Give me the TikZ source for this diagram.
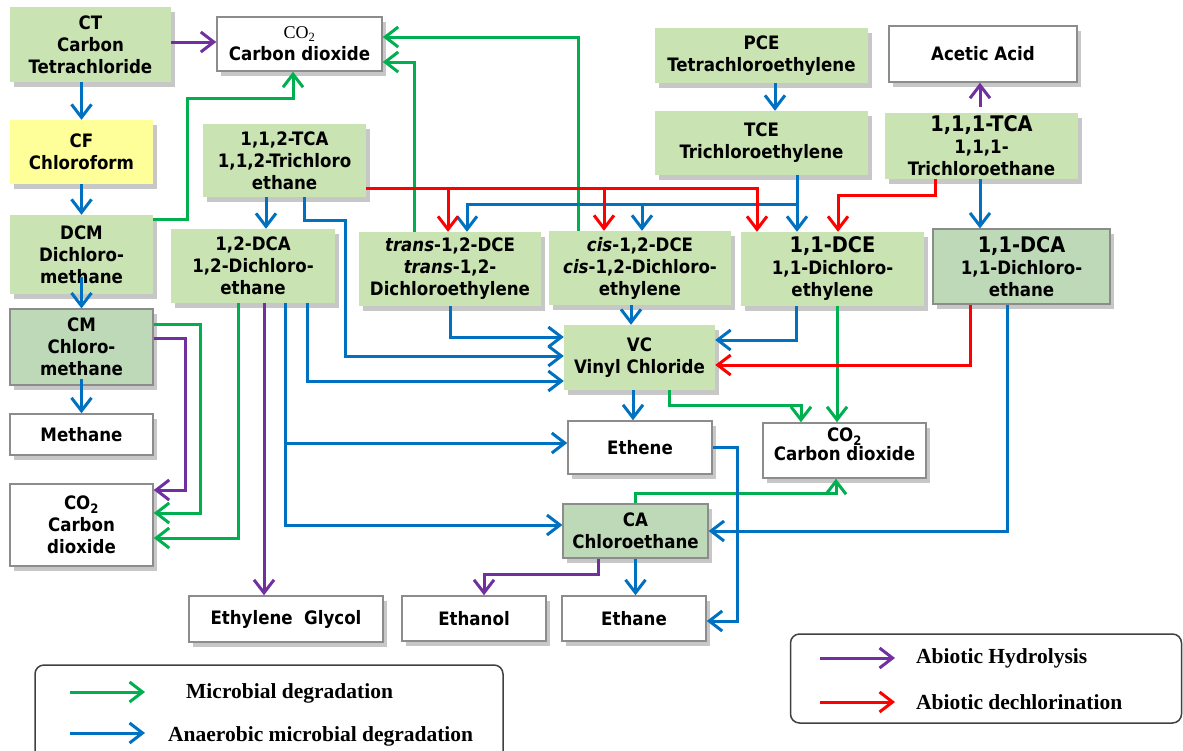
\documentclass[tikz,border=0pt]{standalone}
\usepackage{fontspec}
\usepackage{tikz}
\usetikzlibrary{arrows.meta,shadows}

\newfontfamily\boxfont{DejaVu Sans Condensed}
\newfontfamily\legfont{Liberation Serif}

\definecolor{boxgreen}{RGB}{201,227,178}
\definecolor{boxdark}{RGB}{190,217,184}
\definecolor{boxyellow}{RGB}{255,255,153}
\definecolor{edgegray}{RGB}{140,140,140}
\definecolor{lgreen}{RGB}{0,176,80}
\definecolor{lblue}{RGB}{0,112,192}
\definecolor{lred}{RGB}{255,0,0}
\definecolor{lpurple}{RGB}{112,48,160}

\begin{document}
\begin{tikzpicture}[x=1pt, y=-1pt,
			basebox/.style={rectangle, align=center, inner sep=0pt, font=\boxfont\bfseries\fontsize{18.5pt}{22pt}\selectfont, drop shadow={shadow xshift=4pt, shadow yshift=-5pt, opacity=0.22, fill=black}},
			greenbox/.style={basebox, fill=boxgreen},
			darkbox/.style={basebox, fill=boxdark, draw=edgegray, line width=1.2pt},
			yellowbox/.style={basebox, fill=boxyellow},
			whitebox/.style={basebox, fill=white, draw=edgegray, line width=1.5pt},
			legendbox/.style={rectangle, rounded corners=9pt, draw=black!75, line width=1.5pt},
			legendtext/.style={anchor=west, inner sep=0pt, font=\legfont\bfseries\fontsize{21.5pt}{24pt}\selectfont},
			flow/.style={line width=3pt, -{Straight Barb[length=13pt,width=20pt]}},
			microbial/.style={flow, color=lgreen},
			anaerobic/.style={flow, color=lblue},
			dechlor/.style={flow, color=lred},
			hydrolysis/.style={flow, color=lpurple},
			]
			\useasboundingbox (0,0) rectangle (1183,750);
			%Nodes
				% methanes
				\node[greenbox, minimum width=161pt, minimum height=75pt]	(ct)		at (90.5,44.5)		{CT\\Carbon\\Tetrachloride};
				\node[whitebox, minimum width=165pt, minimum height=54pt]	(co2a)		at (299.5,44)		{{\legfont\mdseries\fontsize{18pt}{20pt}\selectfont CO\textsubscript{2}}\\Carbon dioxide};
				\node[yellowbox, minimum width=143pt, minimum height=64pt]	(cf)		at (81.5,152)		{CF\\Chloroform};
				\node[greenbox, minimum width=143pt, minimum height=79pt]	(dcm)		at (81.5,254.5)		{DCM\\Dichloro-\\methane};
				\node[darkbox, minimum width=143pt, minimum height=76pt]	(cm)		at (81.5,347)		{CM\\Chloro-\\methane};
				\node[whitebox, minimum width=143pt, minimum height=41pt]	(methane)	at (81.5,434.5)		{Methane};
				\node[whitebox, minimum width=143pt, minimum height=82pt]	(co2b)		at (81.5,525)		{CO\textsubscript{2}\\Carbon\\dioxide};
				% ethanes and ethenes
				\node[greenbox, minimum width=163pt, minimum height=73pt]	(tca112)	at (284.5,160.5)	{1,1,2-TCA\\1,1,2-Trichloro\\ethane};
				\node[greenbox, minimum width=164pt, minimum height=74pt]	(dca12)		at (253,266)		{1,2-DCA\\1,2-Dichloro-\\ethane};
				\node[greenbox, minimum width=182pt, minimum height=74pt]	(tdce)		at (450,269)		{\textit{trans}-1,2-DCE\\\textit{trans}-1,2-\\Dichloroethylene};
				\node[greenbox, minimum width=182pt, minimum height=74pt]	(cdce)		at (640,268)		{\textit{cis}-1,2-DCE\\\textit{cis}-1,2-Dichloro-\\ethylene};
				\node[greenbox, minimum width=183pt, minimum height=74pt]	(dce11)		at (832.5,269)		{{\fontsize{21.5pt}{22pt}\selectfont 1,1-DCE}\\1,1-Dichloro-\\ethylene};
				\node[darkbox, minimum width=177pt, minimum height=75pt]	(dca11)		at (1021.5,266.5)	{{\fontsize{21.5pt}{22pt}\selectfont 1,1-DCA}\\1,1-Dichloro-\\ethane};
				\node[greenbox, minimum width=213pt, minimum height=55pt]	(pce)		at (761.5,55.5)		{PCE\\Tetrachloroethylene};
				\node[greenbox, minimum width=213pt, minimum height=64pt]	(tce)		at (761.5,143)		{TCE\\Trichloroethylene};
				\node[whitebox, minimum width=188pt, minimum height=56pt]	(acetic)	at (983,54)			{Acetic Acid};
				\node[greenbox, minimum width=193pt, minimum height=66pt]	(tca111)	at (981.5,146)		{{\fontsize{21.5pt}{22pt}\selectfont 1,1,1-TCA}\\1,1,1-\\Trichloroethane};
				\node[greenbox, minimum width=151pt, minimum height=65pt]	(vc)		at (639.5,357.5)	{VC\\Vinyl Chloride};
				% end products
				\node[whitebox, minimum width=144pt, minimum height=53pt]	(ethene)	at (640,447.5)		{Ethene};
				\node[whitebox, minimum width=163pt, minimum height=55pt]	(co2c)		at (844.5,450.5)	{CO\textsubscript{2}\\[-3pt]Carbon dioxide\\[-9pt]};
				\node[darkbox, minimum width=145pt, minimum height=54pt]	(ca)		at (635.5,531)		{CA\\Chloroethane};
				\node[whitebox, minimum width=144pt, minimum height=45pt]	(ethane)	at (634,618.5)		{Ethane};
				\node[whitebox, minimum width=144pt, minimum height=45pt]	(ethanol)	at (474,618.5)		{Ethanol};
				\node[whitebox, minimum width=194pt, minimum height=46pt]	(eglycol)	at (286,619)		{Ethylene\ \ Glycol};
				% legend
				\node[legendbox, minimum width=468pt, minimum height=110pt]	(legleft)	at (269,720)		{};
				\node[legendbox, minimum width=391pt, minimum height=89pt]	(legright)	at (986,678.5)		{};
				\node[legendtext]	(txmicro)	at (186,693)	{Microbial degradation};
				\node[legendtext]	(txanaer)	at (168,736)	{Anaerobic microbial degradation};
				\node[legendtext]	(txhydro)	at (916,658)	{Abiotic Hydrolysis};
				\node[legendtext]	(txdechl)	at (916,702)	{Abiotic dechlorination};
				%ghost nodes for branching lines
				\coordinate	(tcesplit)	at (797,204);
				\coordinate	(redline)	at ([yshift=-27.5pt]tca112.east);
				\coordinate	(lgmicroa)	at (70,692);
				\coordinate	(lgmicrob)	at (145,692);
				\coordinate	(lganaera)	at (70,733);
				\coordinate	(lganaerb)	at (145,733);
				\coordinate	(lghydroa)	at (820,658);
				\coordinate	(lghydrob)	at (895,658);
				\coordinate	(lgdechla)	at (820,702);
				\coordinate	(lgdechlb)	at (895,702);

			%Lines
				% microbial degradation
				\draw[microbial] ([yshift=-5pt]dcm.north east) -| (187,98) -| ([xshift=-6.5pt]co2a.south);
				\draw[microbial] (414,0 |- tdce.north) |- ([yshift=-18pt]co2a.east);
				\draw[microbial] (578,0 |- cdce.north) |- ([yshift=7pt]co2a.east);
				\draw[microbial] ([yshift=-16pt]cm.north east) -| (200,513) -- ([yshift=12pt]co2b.east);
				\draw[microbial] (238,0 |- dca12.south) |- ([yshift=-13pt]co2b.east);
				\draw[microbial] (669,0 |- vc.south) |- (801,405) -- (801,0 |- co2c.north);
				\draw[microbial] (837,0 |- dce11.south) -- (837,0 |- co2c.north);
				\draw[microbial] (ca.north) |- (836,493) -- (836,0 |- co2c.south);
				% anaerobic microbial degradation
				\draw[anaerobic] (cf.north |- ct.south) -- (cf.north);
				\draw[anaerobic] (cf.south) -- (dcm.north);
				\draw[anaerobic] ([yshift=17pt]dcm.south) -- (cm.north);
				\draw[anaerobic] ([yshift=7pt]cm.south) -- (methane.north);
				\draw[anaerobic] (775,0 |- pce.south) -- (775,0 |- tce.north);
				\draw[anaerobic] (266,0 |- tca112.south) -- (266,0 |- dca12.north);
				\draw[anaerobic] (304,0 |- tca112.south) |- (345,220) |- ([yshift=1.5pt]vc.west);
				\draw[anaerobic] (307,0 |- dca12.south) |- ([yshift=-23.5pt]vc.west);
				\draw[anaerobic] (285,0 |- dca12.south) |- ([yshift=4.5pt]ethene.west);
				\draw[anaerobic] (285,0 |- dca12.south) |- ([yshift=6pt]ca.west);
				\draw[anaerobic] (tdce.south) |- ([yshift=20.5pt]vc.west);
				\draw[anaerobic] (631,0 |- cdce.south) -- (631,0 |- vc.north);
				\draw[anaerobic] (797,0 |- tce.south) -- (797,0 |- dce11.north);
				\draw[anaerobic] (tcesplit) -| (467,0 |- tdce.north);
				\draw[anaerobic] (642,0 |- tcesplit) -- (642,0 |- cdce.north);
				\draw[anaerobic] (980,0 |- tca111.south) -- (980,0 |- dca11.north);
				\draw[anaerobic] (796,0 |- dce11.south) |- ([yshift=17.5pt]vc.east);
				\draw[anaerobic] (1007,0 |- dca11.south) |- (ca.east);
				\draw[anaerobic] (633,0 |- vc.south) -- (633,0 |- ethene.north);
				\draw[anaerobic] (ethene.east) -| (737,621) -- ([yshift=-2.5pt]ethane.east);
				\draw[anaerobic] (ca.south) -- (ca.south |- ethane.north);
				% abiotic dechlorination
				\draw[dechlor] (redline) -| ([xshift=-75.5pt]dce11.north);
				\draw[dechlor] (448,0 |- redline) -- (448,0 |- tdce.north);
				\draw[dechlor] (604,0 |- redline) -- (604,0 |- cdce.north);
				\draw[dechlor] (935,0 |- tca111.south) |- (838,195) -- (838,0 |- dce11.north);
				\draw[dechlor] (970,0 |- dca11.south) |- ([yshift=-7.5pt]vc.east);
				% abiotic hydrolysis
				\draw[hydrolysis] ([yshift=2.5pt]ct.east) -- ([yshift=2pt]co2a.west);
				\draw[hydrolysis] ([xshift=-1.5pt,yshift=6pt]tca111.north) -- ([xshift=-3pt]acetic.south);
				\draw[hydrolysis] ([yshift=-30pt]cm.north east) -| (185,490) -- ([yshift=35pt]co2b.east);
				\draw[hydrolysis] (264,0 |- dca12.south) -- (264,0 |- eglycol.north);
				\draw[hydrolysis] ([xshift=-37.5pt]ca.south) |- (484,574) -- (484,0 |- ethanol.north);
				% legend arrows
				\draw[microbial] (lgmicroa) -- (lgmicrob);
				\draw[anaerobic] (lganaera) -- (lganaerb);
				\draw[hydrolysis] (lghydroa) -- (lghydrob);
				\draw[dechlor] (lgdechla) -- (lgdechlb);
\end{tikzpicture}
\end{document}
